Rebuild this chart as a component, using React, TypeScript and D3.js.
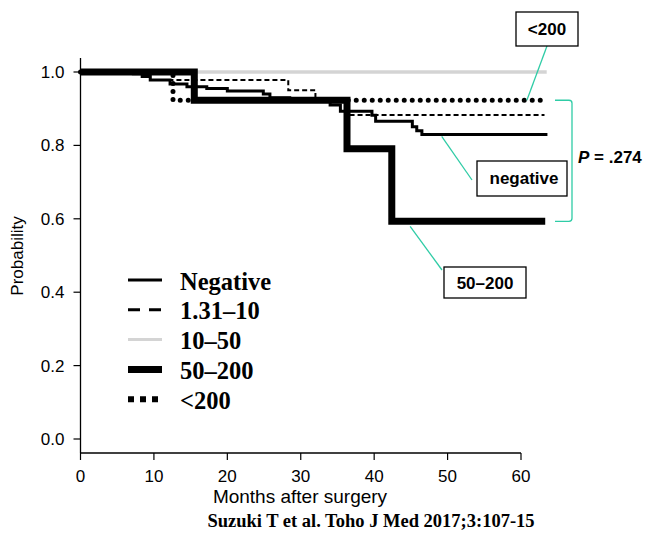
import React from "react";
import * as d3 from "d3";

// ---- data (months, survival probability) ----
const negativeSeries: [number, number][] = [
  [0, 1], [7.2, 0.995], [8.4, 0.988], [9.5, 0.978], [12.2, 0.967], [14.5, 0.96],
  [17.2, 0.955], [20, 0.948], [24.9, 0.94], [25.8, 0.93], [28.5, 0.92], [34, 0.91],
  [35.4, 0.893], [39.7, 0.882], [40.2, 0.866], [45.2, 0.851], [45.8, 0.84], [46.5, 0.83], [63.6, 0.83],
];
const series131to10: [number, number][] = [
  [0, 1], [9.5, 0.978], [28.3, 0.95], [32, 0.92], [36.3, 0.883], [63.2, 0.883],
];
const series10to50: [number, number][] = [[0, 1], [63.5, 1]];
const series50to200: [number, number][] = [
  [0, 1], [15.5, 0.923], [36.3, 0.791], [42.4, 0.593], [63.3, 0.593],
];
const seriesOver200: [number, number][] = [[0, 1], [12.6, 0.923], [63.2, 0.923]];

const xTicks = [0, 10, 20, 30, 40, 50, 60];
const yTicks = [0, 0.2, 0.4, 0.6, 0.8, 1.0];
const legendLabels = ["Negative", "1.31\u201310", "10\u201350", "50\u2013200", "<200"];
const pValueText = ".274";
const citation = "Suzuki T et al. Toho J Med 2017;3:107-15";

const TEAL = "#2fcca6";
const SANS = "'Liberation Sans', Arial, sans-serif";
const SERIF = "'Liberation Serif', 'Times New Roman', serif";

export default function App() {
  const x = d3.scaleLinear().domain([0, 60]).range([80.5, 521]);
  const y = d3.scaleLinear().domain([0, 1]).range([439, 72]);
  const line = d3
    .line<[number, number]>()
    .x((d) => x(d[0]))
    .y((d) => y(d[1]))
    .curve(d3.curveStepAfter);

  const styles = [
    { data: negativeSeries, stroke: "#000", width: 3, dash: undefined as string | undefined, cap: "butt", lg: { w: 3, dash: undefined as string | undefined, stroke: "#000" } },
    { data: series131to10, stroke: "#000", width: 2, dash: "5 3", cap: "butt", lg: { w: 3, dash: "12 9", stroke: "#000" } },
    { data: series10to50, stroke: "#d4d4d4", width: 3.5, dash: undefined, cap: "butt", lg: { w: 3, dash: undefined, stroke: "#d4d4d4" } },
    { data: series50to200, stroke: "#000", width: 7, dash: undefined, cap: "butt", lg: { w: 7, dash: undefined, stroke: "#000" } },
    { data: seriesOver200, stroke: "#000", width: 5, dash: "0 8", cap: "round", lg: { w: 6, dash: "6 6", stroke: "#000" } },
  ];
  const drawOrder = [2, 1, 0, 4, 3];

  const legendY0 = 280;
  const legendStep = 29.8;

  return (
    <svg
      width={646}
      height={545}
      style={{ position: "absolute", left: 0, top: 0, background: "#fff" }}
    >
      <rect x={0} y={0} width={646} height={545} fill="#fff" />
      {/* axes */}
      <line x1={x(0)} x2={x(0)} y1={58} y2={453} stroke="#000" strokeWidth={1.3} />
      <line x1={x(0)} x2={x(60)} y1={453} y2={453} stroke="#000" strokeWidth={1.3} />
      {yTicks.map((t) => (
        <g key={"y" + t}>
          <line x1={x(0) - 7} x2={x(0)} y1={y(t)} y2={y(t)} stroke="#000" strokeWidth={1.2} />
          <text x={x(0) - 16} y={y(t) + 6} textAnchor="end" fontFamily={SANS} fontSize={17}>
            {d3.format(".1f")(t)}
          </text>
        </g>
      ))}
      {xTicks.map((t) => (
        <g key={"x" + t}>
          <line x1={x(t)} x2={x(t)} y1={453} y2={460} stroke="#000" strokeWidth={1.2} />
          <text x={x(t)} y={482} textAnchor="middle" fontFamily={SANS} fontSize={17}>
            {t}
          </text>
        </g>
      ))}
      <text
        transform="translate(23,256) rotate(-90)"
        textAnchor="middle"
        fontFamily={SANS}
        fontSize={17}
      >
        Probability
      </text>
      <text x={300} y={503} textAnchor="middle" fontFamily={SANS} fontSize={19}>
        Months after surgery
      </text>
      <text x={371} y={527} textAnchor="middle" fontFamily={SERIF} fontWeight="bold" fontSize={18.5}>
        {citation}
      </text>

      {/* curves */}
      {drawOrder.map((i) => {
        const s = styles[i];
        return (
          <path
            key={"c" + i}
            d={line(s.data) || ""}
            fill="none"
            stroke={s.stroke}
            strokeWidth={s.width}
            strokeDasharray={s.dash}
            strokeLinecap={s.cap as any}
          />
        );
      })}

      {/* legend */}
      {legendLabels.map((lab, i) => {
        const s = styles[i];
        const yy = legendY0 + i * legendStep;
        return (
          <g key={"lg" + i}>
            <line
              x1={128}
              x2={162}
              y1={yy}
              y2={yy}
              stroke={s.lg.stroke}
              strokeWidth={s.lg.w}
              strokeDasharray={s.lg.dash}
            />
            <text x={180} y={yy + 9.5} fontFamily={SERIF} fontWeight="bold" fontSize={24.5}>
              {lab}
            </text>
          </g>
        );
      })}

      {/* annotations */}
      <line x1={547} y1={46} x2={x(60.8)} y2={y(0.923)} stroke={TEAL} strokeWidth={1.3} />
      <rect x={516} y={12} width={62} height={34} fill="#fff" stroke="#000" strokeWidth={1.3} />
      <text x={547} y={35} textAnchor="middle" fontFamily={SANS} fontWeight="bold" fontSize={17}>
        {"<200"}
      </text>

      <line x1={x(49.2)} y1={y(0.83) + 2} x2={472} y2={180} stroke={TEAL} strokeWidth={1.3} />
      <rect x={477} y={161} width={90} height={35} fill="#fff" stroke="#000" strokeWidth={1.3} />
      <text x={524} y={184} textAnchor="middle" fontFamily={SANS} fontWeight="bold" fontSize={17}>
        negative
      </text>

      <line x1={x(44.9)} y1={y(0.593) + 5} x2={442} y2={270} stroke={TEAL} strokeWidth={1.3} />
      <rect x={444} y={267} width={82} height={31} fill="#fff" stroke="#000" strokeWidth={1.3} />
      <text x={485} y={289} textAnchor="middle" fontFamily={SANS} fontWeight="bold" fontSize={17}>
        50–200
      </text>

      <path
        d={`M555,${y(0.923)} H569 Q572,${y(0.923)} 572,${y(0.923) + 3} V${y(0.593) - 3} Q572,${y(0.593)} 569,${y(0.593)} H555`}
        fill="none"
        stroke={TEAL}
        strokeWidth={1.3}
      />
      <text x={578} y={163} fontFamily={SANS} fontWeight="bold" fontSize={17}>
        <tspan fontStyle="italic">P</tspan>
        {" = " + pValueText}
      </text>
    </svg>
  );
}
